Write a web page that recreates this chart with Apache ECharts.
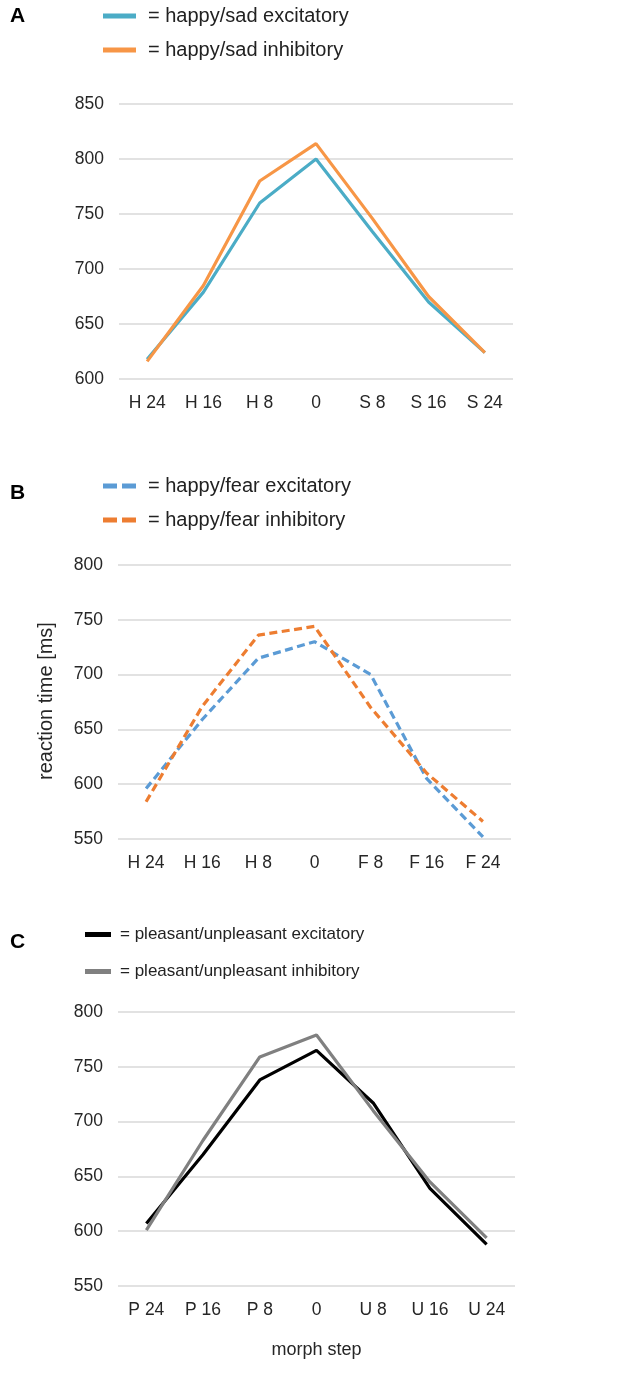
<!DOCTYPE html>
<html><head><meta charset="utf-8">
<script src="https://cdn.jsdelivr.net/npm/echarts@6/dist/echarts.min.js"></script>
<style>html,body{margin:0;padding:0;background:#fff}#c{width:638px;height:1373px}</style>
</head><body><div id="c"></div>
<script>
const catA = ['H 24','H 16','H 8','0','S 8','S 16','S 24'];
const catB = ['H 24','H 16','H 8','0','F 8','F 16','F 24'];
const catC = ['P 24','P 16','P 8','0','U 8','U 16','U 24'];
const sadExc = [618, 679, 760, 800, 734, 670, 624];
const sadInh = [616, 685, 780, 814, 746, 675, 624];
const fearExc = [596, 659, 715, 730, 700, 605, 552];
const fearInh = [584, 671, 736, 744, 670, 610, 566];
const plExc = [607, 670, 738, 765, 717, 639, 588];
const plInh = [601, 683, 759, 779, 710, 645, 594];
const namesA = ['= happy/sad excitatory','= happy/sad inhibitory'];
const namesB = ['= happy/fear excitatory','= happy/fear inhibitory'];
const namesC = ['= pleasant/unpleasant excitatory','= pleasant/unpleasant inhibitory'];
const yName = 'reaction time [ms]';
const xName = 'morph step';

const FONT = 'Liberation Sans, Arial, sans-serif';
const chart = echarts.init(document.getElementById('c'));
function xAx(i, cats, name) {
  return {type:'category', gridIndex:i, data:cats, boundaryGap:true,
    axisLine:{show:false}, axisTick:{show:false},
    axisLabel:{color:'#262626', fontSize:17.5, fontFamily:FONT, margin:15},
    name:name||'', nameLocation:'middle', nameGap:55,
    nameTextStyle:{color:'#262626', fontSize:18, fontFamily:FONT}};
}
function yAx(i, min, max) {
  return {type:'value', gridIndex:i, min:min, max:max, interval:50,
    axisLine:{show:false}, axisTick:{show:false},
    splitLine:{lineStyle:{color:'#d9d9d9', width:1.5}},
    axisLabel:{color:'#262626', fontSize:17.5, fontFamily:FONT, margin:15}};
}
function ser(i, name, data, color, dashed) {
  return {type:'line', xAxisIndex:i, yAxisIndex:i, name:name, data:data,
    symbol:'none', smooth:false,
    lineStyle:{color:color, width:3.2, type: dashed ? [8,4.5] : 'solid'},
    itemStyle:{color:color}};
}
const DASH_ICON = 'path://M0,0H14V5H0Z M19,0H33V5H19Z';
function leg(names, left, top, w, gap, icon, size, pad) {
  return {orient:'vertical', left:left, top:top, padding:0, data:names.map(n=>({name:n, icon:icon})),
    itemWidth:w, itemHeight:5, itemGap:gap,
    textStyle:{color:'#222', fontSize:size, fontFamily:FONT, padding:[0,0,0,pad]}};
}
chart.setOption({
  animation:false,
  grid:[
    {left:119, width:394, top:104, height:275},
    {left:118, width:393, top:565, height:274},
    {left:118, width:397, top:1012, height:274}
  ],
  xAxis:[xAx(0,catA), xAx(1,catB), xAx(2,catC,xName)],
  yAxis:[yAx(0,600,850), yAx(1,550,800), yAx(2,550,800)],
  legend:[
    leg(namesA,103,6,33,14,'rect',20,7),
    leg(namesB,103,476,33,14,DASH_ICON,20,7),
    leg(namesC,85,926,26,20,'rect',17,4)
  ],
  series:[
    ser(0,namesA[0],sadExc,'#4bacc6',false),
    ser(0,namesA[1],sadInh,'#f79646',false),
    ser(1,namesB[0],fearExc,'#5b9bd5',true),
    ser(1,namesB[1],fearInh,'#ed7d31',true),
    ser(2,namesC[0],plExc,'#000000',false),
    ser(2,namesC[1],plInh,'#808080',false)
  ],
  graphic:[
    {type:'text', left:10, top:6, style:{text:'A', fontSize:21, fontWeight:900, fontFamily:FONT, fill:'#000'}},
    {type:'text', left:10, top:483, style:{text:'B', fontSize:21, fontWeight:900, fontFamily:FONT, fill:'#000'}},
    {type:'text', left:10, top:932, style:{text:'C', fontSize:21, fontWeight:900, fontFamily:FONT, fill:'#000'}},
    {type:'text', x:46, y:701, rotation:Math.PI/2,
      style:{text:yName, fontSize:20, fontFamily:FONT, fill:'#262626', align:'center', verticalAlign:'middle'}}
  ]
});
</script></body></html>
